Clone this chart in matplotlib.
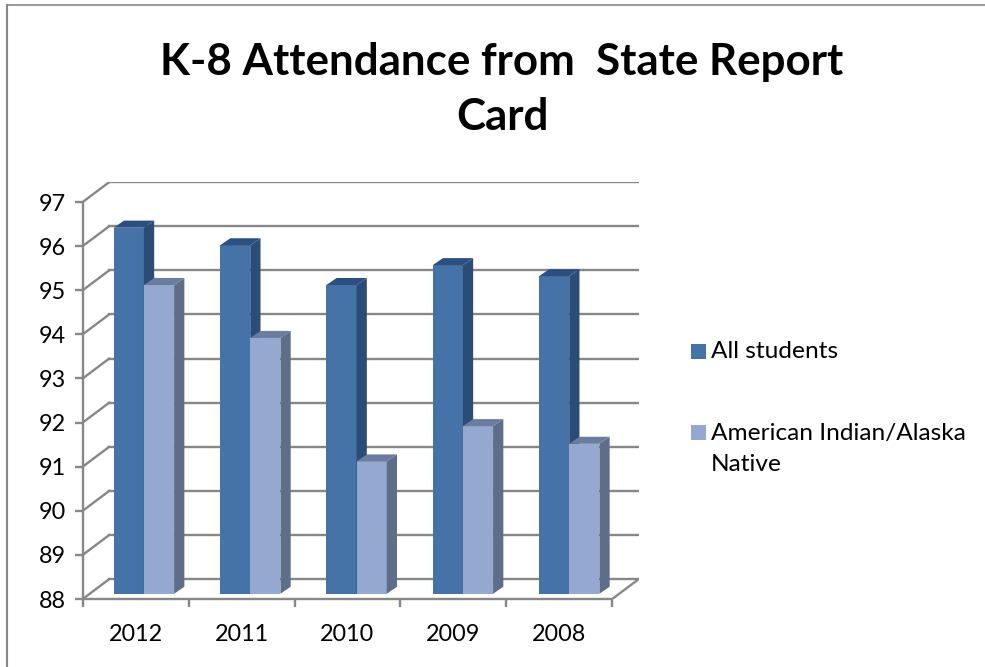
import matplotlib
matplotlib.use("Agg")
import matplotlib.pyplot as plt
from matplotlib.lines import Line2D
from matplotlib.patches import Rectangle

plt.rcParams['font.family'] = ['Lato', 'DejaVu Sans']

years = ['2012', '2011', '2010', '2009', '2008']
all_students = [96.3, 95.9, 95.0, 95.45, 95.2]
native = [95.0, 93.8, 91.0, 91.8, 91.4]
y_ticks = [88, 89, 90, 91, 92, 93, 94, 95, 96, 97]
series_names = ['All students', 'American Indian/Alaska\nNative']

W, H = 985, 667
GREY = '#878787'
LW = 1.7
# depth of the fake 3d box, in data units
wall_dx = 0.25
wall_dy = 0.45
bar_dx = 0.097
bar_dy = 0.16
bar_lift = 0.118  # bars stand a bit back from the front edge of the floor
bar_w = 0.285
bar_start = 0.293


def fx(x):
    return x / W


def fy(y):
    return 1 - y / H


def draw_bar(ax, x, val, front, side, top):
    base = 88 + bar_lift
    t = val + bar_lift
    ax.bar(x, t - base, bottom=base, width=bar_w, align='edge',
           color=front, linewidth=0, zorder=3)
    r = x + bar_w
    ax.fill([r, r + bar_dx, r + bar_dx, r],
            [base, base + bar_dy, t + bar_dy, t],
            color=side, linewidth=0, zorder=3)
    ax.fill([x, r, r + bar_dx, x + bar_dx],
            [t, t, t + bar_dy, t + bar_dy],
            color=top, linewidth=0, zorder=3)


fig = plt.figure(figsize=(W / 100, H / 100), dpi=100)

# axes run from the front corner to the far corner of the box
left, right, bottom = 82.7, 612.2, 599
top_97 = 202
ax_right = left + (right - left) * (5 + wall_dx) / 5
unit = (bottom - top_97) / 9
ax_top = top_97 - wall_dy * unit
ax = fig.add_axes([fx(left), fy(bottom), fx(ax_right - left), (bottom - ax_top) / H])
ax.set_xlim(0, 5 + wall_dx)
ax.set_ylim(88, 97 + wall_dy)
ax.patch.set_visible(False)

for s in ['top', 'right']:
    ax.spines[s].set_visible(False)
for s in ['left', 'bottom']:
    ax.spines[s].set_color(GREY)
    ax.spines[s].set_linewidth(LW)
ax.spines['left'].set_bounds(88, 97)
ax.spines['bottom'].set_bounds(0, 5)

ax.set_yticks(y_ticks)
ax.tick_params(axis='y', length=6, width=LW, color=GREY, labelsize=16.8, pad=6)
ax.set_xticks(range(6))
ax.set_xticklabels([])
ax.tick_params(axis='x', length=6, width=LW, color=GREY)
ax.set_xticks([i + 0.5 for i in range(5)], labels=years, minor=True)
ax.tick_params(axis='x', which='minor', length=0, labelsize=16.8, pad=18)

# back wall and left wall lines
for v in y_ticks:
    ax.plot([0, wall_dx], [v, v + wall_dy], color=GREY, lw=LW, zorder=1)
    ax.plot([wall_dx, 5 + wall_dx], [v + wall_dy, v + wall_dy], color=GREY, lw=LW, zorder=1)
ax.plot([5, 5 + wall_dx], [88, 88 + wall_dy], color=GREY, lw=LW, zorder=1)

for i in range(len(years)):
    x = i + bar_start + 0.004 * i
    draw_bar(ax, x, all_students[i], '#4572A7', '#2B4C77', '#2A4F80')
    draw_bar(ax, x + bar_w, native[i], '#95A9D0', '#5F6E88', '#6A7CA0')

fig.text(fx(502), fy(62), 'K-8 Attendance from  State Report', fontsize=31.6,
         fontweight='bold', ha='center', va='center', color='black')
fig.text(fx(502), fy(117), 'Card', fontsize=31.6, fontweight='bold',
         ha='center', va='center', color='black')

# legend
fig.add_artist(Rectangle((fx(691), fy(359)), 15 / W, 15 / H, transform=fig.transFigure,
                         color='#4572A7', linewidth=0))
fig.add_artist(Rectangle((fx(691), fy(440)), 15 / W, 15 / H, transform=fig.transFigure,
                         color='#95A9D0', linewidth=0))
fig.text(fx(711), fy(352), series_names[0], fontsize=17.6, va='center', ha='left')
fig.text(fx(711), fy(449), series_names[1], fontsize=17.6, va='center', ha='left',
         linespacing=1.6)

# chart frame, only top and left survive in the crop
fig.add_artist(Line2D([fx(7), fx(7)], [fy(5), fy(667)], transform=fig.transFigure,
                      color=GREY, lw=1.5))
fig.add_artist(Line2D([fx(7), fx(985)], [fy(5), fy(5)], transform=fig.transFigure,
                      color=GREY, lw=1.2))

fig.savefig('out.png', dpi=100)
